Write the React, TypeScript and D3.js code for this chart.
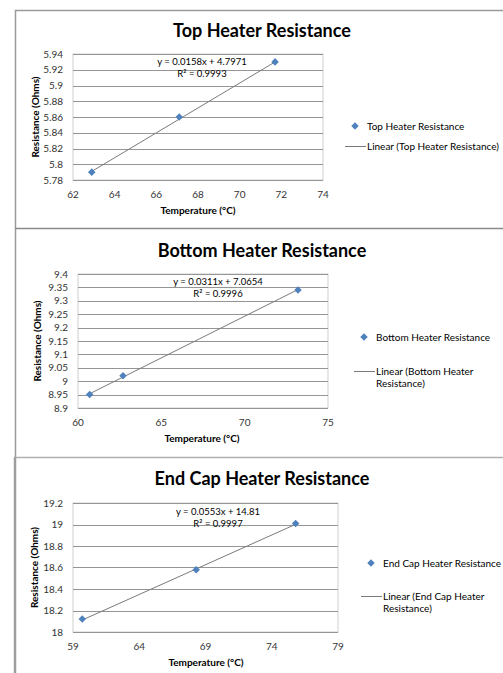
import React from "react";
import * as d3 from "d3";

// Measured heater resistance vs temperature
const topTemps = [62.9, 67.1, 71.7];
const topOhms = [5.79, 5.86, 5.93];
const bottomTemps = [60.7, 62.7, 73.2];
const bottomOhms = [8.95, 9.02, 9.34];
const endCapTemps = [59.7, 68.3, 75.8];
const endCapOhms = [18.12, 18.58, 19.01];

// Linear fits [slope, intercept, R²]
const topFit = [0.0158, 4.7971, 0.9993];
const bottomFit = [0.0311, 7.0654, 0.9996];
const endCapFit = [0.0553, 14.81, 0.9997];

// Axis ticks
const topXTicks = [62, 64, 66, 68, 70, 72, 74];
const topYTicks = [5.78, 5.8, 5.82, 5.84, 5.86, 5.88, 5.9, 5.92, 5.94];
const bottomXTicks = [60, 65, 70, 75];
const bottomYTicks = [8.9, 8.95, 9, 9.05, 9.1, 9.15, 9.2, 9.25, 9.3, 9.35, 9.4];
const endCapXTicks = [59, 64, 69, 74, 79];
const endCapYTicks = [18, 18.2, 18.4, 18.6, 18.8, 19, 19.2];

const FONT = "Lato, 'Open Sans', sans-serif";
const BLUE = "#4F81BD";

type PanelProps = {
  title: string;
  titleY: number;
  plot: { x0: number; x1: number; y0: number; y1: number };
  xs: number[];
  ys: number[];
  fit: number[];
  xTicks: number[];
  yTicks: number[];
  eq: { x: number; y: number };
  xTitleX: number;
  yTitleX: number;
  legend: { x: number; markerY: number; lineY: number; lines: string[] };
};

function Panel(p: PanelProps) {
  const { plot } = p;
  const x = d3
    .scaleLinear()
    .domain([p.xTicks[0], p.xTicks[p.xTicks.length - 1]])
    .range([plot.x0, plot.x1]);
  const y = d3
    .scaleLinear()
    .domain([p.yTicks[0], p.yTicks[p.yTicks.length - 1]])
    .range([plot.y1, plot.y0]);
  const [m, b] = p.fit;
  const xMin = d3.min(p.xs) as number;
  const xMax = d3.max(p.xs) as number;
  const trend = d3.line<number>()
    .x((v) => x(v))
    .y((v) => y(m * v + b))([xMin, xMax]);
  const diamond = d3.symbol().type(d3.symbolDiamond2).size(36)();
  return (
    <g>
      <text
        x={262}
        y={p.titleY}
        textAnchor="middle"
        fontFamily={FONT}
        fontWeight="bold"
        fontSize={18}
        fill="#000"
      >
        {p.title}
      </text>
      {/* plot area */}
      <rect
        x={plot.x0}
        y={plot.y0}
        width={plot.x1 - plot.x0}
        height={plot.y1 - plot.y0}
        fill="#fff"
        stroke="#cfcfcf"
        strokeWidth={1}
      />
      {p.yTicks.map((t) => (
        <line
          key={"g" + t}
          x1={plot.x0}
          x2={plot.x1}
          y1={Math.round(y(t)) + 0.5}
          y2={Math.round(y(t)) + 0.5}
          stroke="#959595"
          strokeWidth={1}
        />
      ))}
      {p.yTicks.map((t) => (
        <text
          key={"yl" + t}
          x={plot.x0 - 10}
          y={y(t)}
          dy="0.35em"
          textAnchor="end"
          fontFamily={FONT}
          fontSize={10}
          fill="#333"
        >
          {d3.format("~g")(t)}
        </text>
      ))}
      {p.xTicks.map((t) => (
        <text
          key={"xl" + t}
          x={x(t)}
          y={plot.y1 + 17.5}
          textAnchor="middle"
          fontFamily={FONT}
          fontSize={10}
          fill="#333"
        >
          {t}
        </text>
      ))}
      <text
        x={p.xTitleX}
        y={plot.y1 + 34}
        textAnchor="middle"
        fontFamily={FONT}
        fontWeight="bold"
        fontSize={10}
        fill="#000"
      >
        Temperature (°C)
      </text>
      <text
        transform={`translate(${p.yTitleX},${(plot.y0 + plot.y1) / 2}) rotate(-90)`}
        textAnchor="middle"
        dy="0.35em"
        fontFamily={FONT}
        fontWeight="bold"
        fontSize={10}
        fill="#000"
      >
        Resistance (Ohms)
      </text>
      <path d={trend ?? ""} stroke="#7a7a7a" strokeWidth={1} fill="none" />
      {p.xs.map((v, i) => (
        <path
          key={"pt" + i}
          d={diamond ?? ""}
          transform={`translate(${x(v)},${y(p.ys[i])})`}
          fill={BLUE}
        />
      ))}
      <text
        x={p.eq.x}
        y={p.eq.y}
        textAnchor="middle"
        fontFamily={FONT}
        fontSize={9.5}
        fill="#000"
      >
        {`y = ${m}x + ${b}`}
      </text>
      <text
        x={p.eq.x}
        y={p.eq.y + 11.5}
        textAnchor="middle"
        fontFamily={FONT}
        fontSize={9.5}
        fill="#000"
      >
        R² = {p.fit[2]}
      </text>
      {/* legend */}
      <path
        d={diamond ?? ""}
        transform={`translate(${p.legend.x - 12},${p.legend.markerY})`}
        fill={BLUE}
      />
      <text
        x={p.legend.x}
        y={p.legend.markerY}
        dy="0.35em"
        fontFamily={FONT}
        fontSize={10}
        fill="#000"
      >
        {p.title}
      </text>
      <line
        x1={p.legend.x - 22}
        x2={p.legend.x - 1}
        y1={p.legend.lineY + 0.5}
        y2={p.legend.lineY + 0.5}
        stroke="#7a7a7a"
        strokeWidth={1}
      />
      {p.legend.lines.map((s, i) => (
        <text
          key={"lg" + i}
          x={p.legend.x}
          y={p.legend.lineY + i * 12.5}
          dy="0.35em"
          fontFamily={FONT}
          fontSize={10}
          fill="#000"
        >
          {s}
        </text>
      ))}
    </g>
  );
}

export default function App() {
  return (
    <svg
      width={503}
      height={673}
      style={{ position: "absolute", left: 0, top: 0, background: "#fff" }}
    >
      <rect x={0} y={0} width={503} height={673} fill="#fff" />
      {/* chart frames */}
      <path d="M15.5,673 V10.5 H503" stroke="#9a9a9a" strokeWidth={1.5} fill="none" />
      <line x1={15} x2={503} y1={228.5} y2={228.5} stroke="#8a8a8a" strokeWidth={1.5} />
      <line x1={14} x2={503} y1={457.5} y2={457.5} stroke="#b0b0b0" strokeWidth={1.5} />
      <line x1={14.5} x2={14.5} y1={457} y2={673} stroke="#a0a0a0" strokeWidth={1.5} />

      <Panel
        title="Top Heater Resistance"
        titleY={37}
        plot={{ x0: 73, x1: 323, y0: 54, y1: 180 }}
        xs={topTemps}
        ys={topOhms}
        fit={topFit}
        xTicks={topXTicks}
        yTicks={topYTicks}
        eq={{ x: 202, y: 65 }}
        xTitleX={198}
        yTitleX={35}
        legend={{
          x: 367,
          markerY: 126,
          lineY: 146,
          lines: ["Linear (Top Heater Resistance)"],
        }}
      />
      <Panel
        title="Bottom Heater Resistance"
        titleY={257}
        plot={{ x0: 78, x1: 328, y0: 274, y1: 408 }}
        xs={bottomTemps}
        ys={bottomOhms}
        fit={bottomFit}
        xTicks={bottomXTicks}
        yTicks={bottomYTicks}
        eq={{ x: 218, y: 285 }}
        xTitleX={202}
        yTitleX={37}
        legend={{
          x: 376,
          markerY: 337,
          lineY: 371,
          lines: ["Linear (Bottom Heater", "Resistance)"],
        }}
      />
      <Panel
        title="End Cap Heater Resistance"
        titleY={485}
        plot={{ x0: 73, x1: 338, y0: 503, y1: 632 }}
        xs={endCapTemps}
        ys={endCapOhms}
        fit={endCapFit}
        xTicks={endCapXTicks}
        yTicks={endCapYTicks}
        eq={{ x: 218, y: 515 }}
        xTitleX={206}
        yTitleX={34}
        legend={{
          x: 383,
          markerY: 563,
          lineY: 596,
          lines: ["Linear (End Cap Heater", "Resistance)"],
        }}
      />
    </svg>
  );
}
